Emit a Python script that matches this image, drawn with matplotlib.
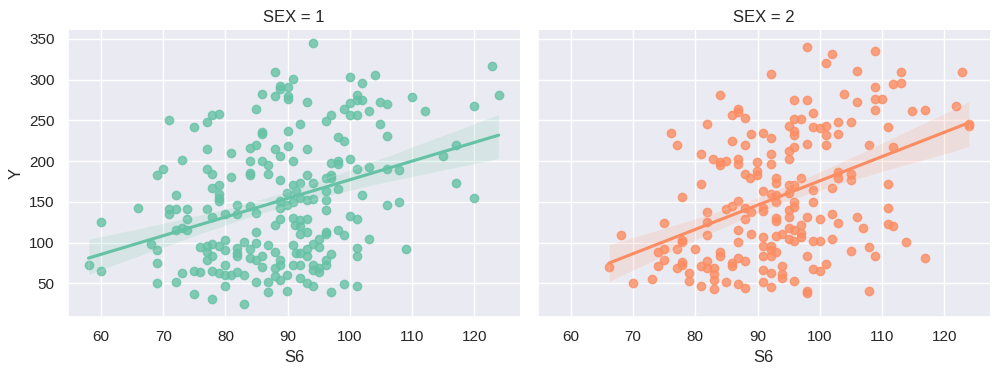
import numpy as np
import pandas as pd
import seaborn as sns
import matplotlib.pyplot as plt

# values (S6 = glucose, Y = progression)
sex1_s6 = [
    88, 88.8, 90, 90.9, 87.9, 90, 90, 88.8, 85.9, 84.9, 77.9, 78.9, 70.9, 75, 77, 85.9, 85.9, 90,
    77, 83.9, 84.9, 87.9, 88.8, 90, 80.9, 73, 70, 69, 77, 77.9, 80.9, 83.9, 83.9, 83.9, 85.9, 86.9,
    86.9, 88.8, 90.9,
    94, 93.1, 100, 102, 104, 101.1, 101.1, 102, 100, 99, 103.1, 104.9, 106, 110, 112, 120, 122.9,
    123.9, 97, 96.1, 100, 101.1, 92, 104.9, 106, 98.1, 99, 93.1, 97, 98.1, 98.1, 100, 101.1, 103.1,
    106, 107.9, 114.9, 117, 93.1, 96.1, 97,
    90.9, 89.9, 91.4, 72, 77.9, 78.9, 78.9, 78.9, 78.9, 66, 60, 70.9, 70.9, 72, 73.9, 73.9, 77, 77.9,
    81.9, 80, 81.9, 83.9, 84.9, 88.8, 88.8, 89.9, 90.9, 88.8, 87.9, 90.9, 72, 73, 73.9, 68, 69, 69,
    69, 58, 60, 72, 73, 75, 75.9, 75, 77.9, 83, 75.9, 77, 77.9, 78.9, 77, 77, 77.9, 80, 80, 81.9,
    81.9, 81.9, 83, 83.9, 83.9, 84.9, 84.9, 84.9, 85.9, 85.9, 86.9, 87.9, 88.8, 88.8, 87.9, 87.9,
    88.8, 89.9, 90.9, 90.9, 91.4, 77.9, 78.9, 80, 80, 80, 80.9, 81.9, 83, 84.9, 86.9, 86.9, 89.9,
    92, 94, 97, 98.1, 96.1, 93.1, 94, 92, 96.1, 96.1, 102, 106, 107.9, 117, 120, 92, 93.1, 91.1, 92,
    93.1, 92, 96.1, 96.1, 98.1, 99, 100, 101.1, 103.1, 95.1, 94, 95.1, 93.1, 92, 93.1, 97, 96.1,
    96.1, 101.1, 101.1, 109, 92, 94, 94, 95.1, 95.1, 92, 93.1, 94, 97, 99, 101.1,
]
sex1_y = [
    310, 292, 291, 301, 280, 280, 276, 288, 282.5, 264.6, 257, 258, 251, 242, 247.6, 235.4, 233, 237.4,
    214.6, 216, 220.3, 215, 206, 219, 209.8, 200.8, 190, 182.5, 190.7, 184, 180, 199.6, 185, 182.5,
    200, 195, 183.7, 177, 200,
    345, 272.8, 302.8, 295.5, 306, 281, 275, 275, 271, 264.6, 261.8, 272, 270, 279, 261, 268, 316.7,
    281.3, 257, 249, 257, 257, 245, 245, 230.5, 230, 225, 214.6, 198, 200.4, 196.7, 202.8, 190,
    192.7, 190.7, 189, 206, 220.3, 182.5, 179.7, 182.5,
    170.4, 161.4, 163, 158, 167.5, 170.4, 159, 150.8, 155, 142.7, 125, 141, 135, 141, 140.6, 128.8,
    141, 130.8, 146.7, 135, 135, 144.7, 136.5, 151.2, 141.8, 146, 150, 128.8, 121.4, 129.6, 115.3,
    118.2, 115.3, 97.8, 90.8, 74.5, 50.8, 72.4, 65.5, 52, 63, 65.5, 64.3, 36.5, 30.4, 24.7, 94.9, 96,
    97.8, 95.7, 88.8, 78.6, 83.9, 103, 90.8, 93.7, 86.7, 83.9, 100.2, 91.6, 81.4, 113.3, 99, 78.6,
    83.9, 70.4, 97, 88, 78.6, 72.4, 68.4, 59.4, 54, 60, 97, 72.4, 86.7, 65.5, 62.2, 72.4, 60.2, 47,
    60.2, 64.3, 60.2, 52, 52, 39, 41,
    173.7, 172.9, 179.4, 165.5, 163, 152, 153.3, 155, 152, 140.2, 158.2, 146.7, 150, 172.9, 155,
    127.6, 128.4, 121.4, 120.6, 113.3, 110, 113.3, 110, 115.3, 109.2, 132.4, 128.8, 103.9, 103.9,
    97.8, 94.5, 91.6, 86.7, 83.9, 85.5, 78.6, 72.4, 92.9, 83.9, 91.6, 72.4, 72.4, 66.3, 68.4, 63.5,
    56, 50, 47.1, 39.8, 48.8, 47.1,
]

sex2_s6 = [
    92.1, 83.9, 85.9, 86.9, 86.9, 87.9, 81.9, 76.1, 77, 85.9, 87.9, 89, 90.9, 80.9, 82.9, 83.9, 83.9,
    84.9, 86.9, 86.9, 89.9, 87.9, 89.9, 89.9, 88.8,
    98, 102, 101, 108.9, 105.9, 113, 122.9, 113, 111.8, 108.9, 103.9, 95.9, 98, 108.9, 110, 108.9,
    105.9, 98.9, 95.9, 97, 95, 92.1, 95.9, 95.9, 98.9, 100, 101, 101, 102.9, 102.9, 105, 98, 95.9,
    101, 92.1, 92.1, 95, 95, 107.9, 110.9, 111.8, 114.8, 116.9, 121.9, 123.9, 124, 102.9, 105, 97, 93,
    90.9, 80.9, 77.8, 81.9, 81.9, 84.9, 85.9, 86.9, 87.9, 89, 87.9, 90.9, 74.9, 68.1, 81.9, 86.9,
    86.9, 89, 90.9, 90.9, 77.8, 77.8, 74, 74.9, 77, 80, 83.9, 83.9, 74, 74.9, 77.8, 77.8, 77, 66.1,
    69.9, 73, 79, 79, 80.9, 81.9, 81.9, 83, 83, 83, 83, 80.9, 85.9, 85.9, 86.9, 87.9, 84.9, 86.9,
    87.9, 90.9, 90.9, 90.9,
    93, 95, 95.9, 95, 102.9, 105, 110.9, 102, 98.9, 98.9, 92.1, 93, 93, 95.9, 95.9, 95, 90.9, 93, 93,
    95, 98, 100, 102, 102.9, 105.9, 106.9, 110.9, 110.9, 111.8, 113.9, 116.9, 95, 95.9, 97, 97, 97,
    93, 93.9, 95, 95.9, 98.9, 100, 102, 92.1, 92.1, 93, 92.1, 98, 105, 107.9, 108.9, 101, 100, 98.9,
    93.9, 93.9, 93.9, 92.1, 95.9, 92.1, 98, 98, 107.9,
]
sex2_y = [
    307.3, 281.3, 257, 263.8, 259.8, 252.4, 245.5, 234.6, 220.3, 225.2, 220, 233.3, 234.6, 208.5,
    202.8, 198.8, 195.5, 200, 202.8, 195.9, 198.8, 184.5, 187.4, 182.5, 179,
    340.7, 331, 320.3, 335.8, 310.6, 309.8, 309.8, 296.3, 294.3, 291.5, 283, 275.2, 275.2, 276,
    276.8, 263, 272, 259, 251.6, 251.6, 243.5, 228.5, 237.4, 232, 241.5, 240.2, 243.5, 232, 247.6,
    233.3, 248.4, 221, 217, 220.3, 208.9, 196.7, 211.8, 202.8, 220.3, 242.3, 217, 261.8, 263, 267.9,
    243.5, 246, 186.6, 184, 179.3, 179.3,
    163, 171.6, 156, 137.8, 125.5, 140.6, 145, 151.2, 141.8, 137.8, 128.8, 141.8, 124.3, 109.2,
    109.2, 115.3, 101, 110.8, 107, 96, 103, 101, 88, 91.6, 91.6, 91.6, 88, 83.5, 71.6, 78.6, 76.5,
    72.4, 68.4, 69.6, 50.8, 54.9, 62.2, 52.9, 71.6, 77.3, 69.2, 68.4, 61, 54, 43, 47.1, 75.3, 71.2,
    80.6, 77.3, 52, 48.8, 43.9, 83.9, 66.3, 51.2,
    173.7, 170.4, 170.4, 161.4, 179.4, 176.5, 171.6, 167.5, 164.3, 150, 160.2, 158.2, 150, 150,
    143.9, 139.8, 138.6, 130.4, 126.7, 131.6, 130.8, 128.8, 134.9, 123.9, 130.8, 117.3, 141.8, 122.7,
    120.2, 100.2, 81, 117.3, 115.3, 121.4, 111.2, 107, 108.4, 110, 103.9, 101.8, 102.2, 102.2, 103.9,
    96.1, 90.8, 88.8, 83.9, 83.9, 89.6, 94, 83.9, 73.3, 65.5, 67.1, 71.6, 61, 56, 62.2, 53.3, 45,
    40.6, 38.6, 41,
]

df = pd.DataFrame({
    "S6": sex1_s6 + sex2_s6,
    "Y": sex1_y + sex2_y,
    "SEX": [1] * len(sex1_s6) + [2] * len(sex2_s6),
})

sns.set_theme(style="darkgrid")
plt.rcParams['font.family'] = ['Liberation Sans', 'DejaVu Sans']
g = sns.lmplot(data=df, x="S6", y="Y", col="SEX", hue="SEX", palette="Set2",
               height=3.75, aspect=1.333, seed=0)
g.figure.subplots_adjust(left=0.068, right=0.99, top=0.92, bottom=0.155, wspace=0.04)
g.figure.savefig("out.png", dpi=100)
